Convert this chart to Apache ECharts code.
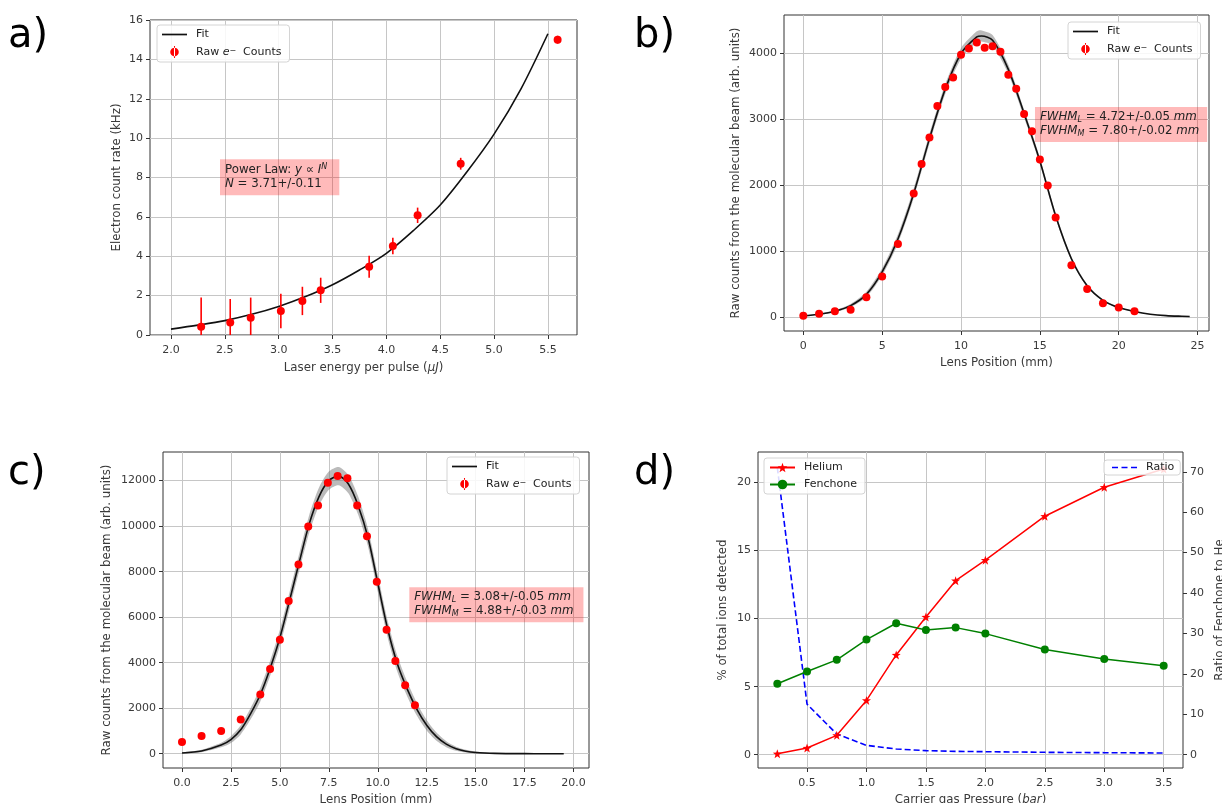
<!DOCTYPE html>
<html><head><meta charset="utf-8">
<script src="https://cdn.jsdelivr.net/npm/echarts@6/dist/echarts.min.js"></script>
<style>html,body{margin:0;padding:0;background:#fff}#c{width:1222px;height:803px}</style>
</head><body><div id="c"></div>
<script>
// ---------- Panel a ----------
const aEnergy = [2.28, 2.55, 2.74, 3.02, 3.22, 3.39, 3.84, 4.06, 4.29, 4.69, 5.59];
const aRate   = [0.42, 0.64, 0.88, 1.22, 1.73, 2.27, 3.47, 4.52, 6.08, 8.70, 15.0];
const aErr    = [1.48, 1.19, 1.02, 0.88, 0.72, 0.64, 0.56, 0.42, 0.39, 0.30, 0.20];
const aFitX   = [2.0, 2.25, 2.5, 2.75, 3.0, 3.25, 3.5, 3.75, 4.0, 4.25, 4.5, 4.75, 5.0, 5.25, 5.5];
const aFitY   = [0.30, 0.50, 0.73, 1.05, 1.45, 1.95, 2.55, 3.30, 4.15, 5.30, 6.60, 8.30, 10.2, 12.5, 15.3];
const aXTicks = [2.0, 2.5, 3.0, 3.5, 4.0, 4.5, 5.0, 5.5];
const aYTicks = [0, 2, 4, 6, 8, 10, 12, 14, 16];

// ---------- Panel b ----------
const bPos    = [0, 1, 2, 3, 4, 5, 6, 7, 7.5, 8, 8.5, 9, 9.5, 10, 10.5, 11, 11.5, 12, 12.5, 13, 13.5, 14, 14.5, 15, 15.5, 16, 17, 18, 19, 20, 21];
const bCounts = [15, 45, 86, 106, 297, 610, 1103, 1869, 2317, 2715, 3194, 3481, 3627, 3970, 4066, 4156, 4076, 4101, 4015, 3668, 3456, 3073, 2811, 2383, 1990, 1506, 781, 423, 207, 141, 86];
const bFitX   = [0, 1, 2, 3, 4, 5, 6, 7, 8, 9, 10, 11, 11.3, 12, 13, 14, 15, 16, 17, 18, 19, 20, 21, 22, 23, 24, 24.5];
const bFitY   = [15, 40, 85, 170, 340, 680, 1180, 1870, 2700, 3450, 3990, 4240, 4255, 4190, 3750, 3080, 2360, 1530, 880, 470, 250, 140, 80, 40, 18, 8, 5];
const bBand   = [5, 10, 15, 25, 40, 55, 70, 75, 75, 75, 80, 85, 85, 80, 70, 60, 50, 40, 30, 20, 15, 10, 6, 4, 3, 2, 2];
const bXTicks = [0, 5, 10, 15, 20, 25];
const bYTicks = [0, 1000, 2000, 3000, 4000];

// ---------- Panel c ----------
const cPos    = [0, 1, 2, 3, 4, 4.5, 5, 5.45, 5.95, 6.45, 6.95, 7.45, 7.95, 8.45, 8.95, 9.45, 9.95, 10.45, 10.9, 11.4, 11.9];
const cCounts = [512, 775, 994, 1505, 2602, 3727, 5013, 6709, 8316, 9983, 10904, 11912, 12204, 12102, 10904, 9559, 7556, 5452, 4078, 3011, 2134];
const cFitX   = [0, 1, 2, 2.5, 3, 3.5, 4, 4.5, 5, 5.5, 6, 6.5, 7, 7.5, 8, 8.5, 9, 9.5, 10, 10.5, 11, 11.5, 12, 12.5, 13, 13.5, 14, 14.5, 15, 16, 17, 18, 19.5];
const cFitY   = [30, 120, 380, 620, 1050, 1750, 2600, 3750, 5100, 6750, 8450, 10100, 11300, 12000, 12200, 11850, 10900, 9500, 7500, 5500, 3950, 2850, 1950, 1250, 750, 420, 220, 110, 55, 15, 5, 2, 0];
const cBand   = [20, 50, 100, 150, 200, 250, 300, 330, 350, 370, 380, 390, 400, 400, 400, 400, 400, 390, 380, 370, 350, 320, 280, 230, 180, 130, 90, 60, 40, 15, 5, 2, 0];
const cXTicks = [0, 2.5, 5, 7.5, 10, 12.5, 15, 17.5, 20];
const cYTicks = [0, 2000, 4000, 6000, 8000, 10000, 12000];

// ---------- Panel d ----------
const dPressure = [0.25, 0.5, 0.75, 1.0, 1.25, 1.5, 1.75, 2.0, 2.5, 3.0, 3.5];
const dHelium   = [0.07, 0.49, 1.42, 3.99, 7.33, 10.12, 12.79, 14.3, 17.53, 19.66, 21.0];
const dFenchone = [5.21, 6.11, 6.97, 8.46, 9.66, 9.17, 9.34, 8.90, 7.73, 7.04, 6.53];
const dRatio    = [71.1, 12.5, 5.1, 2.3, 1.4, 1.0, 0.82, 0.74, 0.58, 0.49, 0.41];
const dXTicks   = [0.5, 1.0, 1.5, 2.0, 2.5, 3.0, 3.5];
const dYTicks   = [0, 5, 10, 15, 20];
const dY2Ticks  = [0, 10, 20, 30, 40, 50, 60, 70];

// ---------- helpers ----------
const FONT = 'DejaVu Sans';
const TXT = '#3a3a3a';
const RED = '#ff0000';
const zip = (xs, ys) => xs.map((x, i) => [x, ys[i]]);
function richSet(fs, col) {
  return {
    n: {fontFamily: FONT, fontSize: fs, color: col},
    i: {fontFamily: FONT, fontSize: fs, fontStyle: 'italic', color: col},
    s: {fontFamily: FONT, fontSize: Math.round(fs * 0.72), fontStyle: 'italic', verticalAlign: 'top', color: col},
    sb: {fontFamily: FONT, fontSize: Math.round(fs * 0.72), fontStyle: 'italic', verticalAlign: 'bottom', color: col}
  };
}
const rich11 = richSet(11, '#222');
const richName = richSet(11.8, TXT);
const rich12 = richSet(11.8, '#222');

function axis(gridIndex, min, max, ticks, name, nameGap, margin, fmt, extra) {
  const o = {
    type: 'value', gridIndex, min, max, name, nameLocation: 'middle', nameGap,
    nameTextStyle: {fontFamily: FONT, fontSize: 11.8, color: TXT, rich: richName},
    axisLine: {show: false, onZero: false},
    axisTick: {show: true, customValues: ticks, length: 4, lineStyle: {color: '#333', width: 1}},
    axisLabel: {customValues: ticks, margin, fontFamily: FONT, fontSize: 11, color: TXT, formatter: fmt || (v => String(v))},
    splitLine: {show: true, lineStyle: {color: '#c6c6c6', width: 1}}
  };
  return Object.assign(o, extra || {});
}
const f1 = v => v.toFixed(1);

const ERR_ICON = 'path://M4.4,0 H5.6 V14 H4.4 Z M0,7 A5,5 0 1,0 10,7 A5,5 0 1,0 0,7 Z';
const LINE_ICON = 'path://M0,0 H25 V1.7 H0 Z';
const DASH_ICON = 'path://M0,0 H6 V1.7 H0 Z M9.5,0 H15.5 V1.7 H9.5 Z M19,0 H25 V1.7 H19 Z';
const legendFmt = name => name === 'Raw e- Counts' ? '{n|Raw }{i|e}{s|−}{n|  Counts}' : '{n|' + name + '}';
function legendBox(left, top, data) {
  return {
    left, top, orient: 'vertical', data, selectedMode: false,
    itemWidth: 25, itemHeight: 12, itemGap: 6, padding: [4, 8, 4, 5],
    backgroundColor: 'rgba(255,255,255,0.85)', borderColor: '#d4d4d4', borderWidth: 1, borderRadius: 3,
    textStyle: {fontFamily: FONT, fontSize: 11, color: '#222', padding: [0, 0, 0, 4], rich: rich11},
    formatter: legendFmt
  };
}
const rawItem = {name: 'Raw e- Counts', icon: ERR_ICON, itemStyle: {color: RED}};
const fitItem = {name: 'Fit', icon: LINE_ICON, itemStyle: {color: '#111'}};

const grids = [
  {left: 150, top: 20, width: 427, height: 315},
  {left: 784, top: 15, width: 425, height: 316},
  {left: 163, top: 452, width: 426, height: 316},
  {left: 758, top: 452, width: 425, height: 316}
].map(g => Object.assign(g, {show: true, borderColor: '#333', borderWidth: 1, backgroundColor: 'transparent', outerBoundsMode: 'none', containLabel: false}));

function errBars(xs, ys, es, xi, yi) {
  return {
    type: 'custom', name: 'errbars', xAxisIndex: xi, yAxisIndex: yi, clip: true, z: 3, silent: true,
    data: xs.map((x, i) => [x, ys[i], es[i]]),
    renderItem(params, api) {
      const x = api.value(0), y = api.value(1), e = api.value(2);
      const p1 = api.coord([x, y + e]), p2 = api.coord([x, y - e]);
      return {type: 'line', shape: {x1: p1[0], y1: p1[1], x2: p2[0], y2: p2[1]}, style: {stroke: RED, lineWidth: 1.6}};
    }
  };
}
function band(xs, ys, hw, xi, yi) {
  return {
    type: 'custom', name: 'band', xAxisIndex: xi, yAxisIndex: yi, clip: true, z: 1, silent: true,
    data: [[xs[0], ys[0]]],
    renderItem(params, api) {
      const up = xs.map((x, i) => api.coord([x, ys[i] + hw[i]]));
      const lo = xs.map((x, i) => api.coord([x, ys[i] - hw[i]])).reverse();
      return {type: 'polygon', shape: {points: up.concat(lo), smooth: 0.25}, style: {fill: 'rgba(120,120,120,0.5)'}};
    }
  };
}
function fitLine(xs, ys, xi, yi) {
  return {type: 'line', name: 'Fit', xAxisIndex: xi, yAxisIndex: yi, smooth: 0.3, symbol: 'none', z: 2,
    lineStyle: {color: '#111', width: 1.6}, itemStyle: {color: '#111'}, data: zip(xs, ys)};
}
function rawPts(xs, ys, xi, yi) {
  return {type: 'scatter', name: 'Raw e- Counts', xAxisIndex: xi, yAxisIndex: yi, symbol: 'circle', symbolSize: 8, z: 4,
    itemStyle: {color: RED, opacity: 1}, data: zip(xs, ys)};
}

const option = {
  animation: false,
  backgroundColor: '#fff',
  textStyle: {fontFamily: FONT},
  grid: grids,
  xAxis: [
    axis(0, 1.805, 5.77, aXTicks, 'Laser energy per pulse ({i|μJ})', 27, 10, f1),
    axis(1, -1.225, 25.725, bXTicks, 'Lens Position (mm)', 26, 10),
    axis(2, -0.97, 20.79, cXTicks, 'Lens Position (mm)', 26, 10, f1),
    axis(3, 0.0875, 3.6625, dXTicks, 'Carrier gas Pressure ({i|bar})', 26, 10, f1)
  ],
  yAxis: [
    axis(0, 0, 16, aYTicks, 'Electron count rate (kHz)', 27, 7),
    axis(1, -215, 4573, bYTicks, 'Raw counts from the molecular beam (arb. units)', 42, 7),
    axis(2, -627, 13258, cYTicks, 'Raw counts from the molecular beam (arb. units)', 50, 7),
    axis(3, -0.98, 22.25, dYTicks, '% of total ions detected', 29, 7),
    axis(3, -3.3, 74.9, dY2Ticks, 'Ratio of Fenchone to He', 31, 7, null, {position: 'right', splitLine: {show: false}})
  ],
  legend: [
    legendBox(157, 25, [fitItem, rawItem]),
    legendBox(1068, 22, [fitItem, rawItem]),
    legendBox(447, 457, [fitItem, rawItem]),
    legendBox(764, 458, ['Helium', 'Fenchone']),
    Object.assign(legendBox(1104, 460, [{name: 'Ratio', icon: DASH_ICON, itemStyle: {color: '#0000ff'}}]), {padding: [2, 6, 2, 8]})
  ],
  series: [
    // a
    errBars(aEnergy, aRate, aErr, 0, 0),
    fitLine(aFitX, aFitY, 0, 0),
    rawPts(aEnergy, aRate, 0, 0),
    // b
    band(bFitX, bFitY, bBand, 1, 1),
    fitLine(bFitX, bFitY, 1, 1),
    rawPts(bPos, bCounts, 1, 1),
    // c
    band(cFitX, cFitY, cBand, 2, 2),
    fitLine(cFitX, cFitY, 2, 2),
    rawPts(cPos, cCounts, 2, 2),
    // d
    {type: 'line', name: 'Ratio', xAxisIndex: 3, yAxisIndex: 4, symbol: 'none', z: 2,
      lineStyle: {color: '#0000ff', width: 1.6, type: [6, 3]}, itemStyle: {color: '#0000ff'}, data: zip(dPressure, dRatio)},
    {type: 'line', name: 'Helium', xAxisIndex: 3, yAxisIndex: 3, z: 3,
      symbol: 'path://M0,-10 L2.35,-3.24 L9.51,-3.09 L3.8,1.24 L5.88,8.09 L0,4 L-5.88,8.09 L-3.8,1.24 L-9.51,-3.09 L-2.35,-3.24 Z',
      symbolSize: 9, showAllSymbol: true,
      lineStyle: {color: RED, width: 1.5}, itemStyle: {color: RED}, data: zip(dPressure, dHelium)},
    {type: 'line', name: 'Fenchone', xAxisIndex: 3, yAxisIndex: 3, z: 3, symbol: 'circle', symbolSize: 8, showAllSymbol: true,
      lineStyle: {color: '#008000', width: 1.5}, itemStyle: {color: '#008000'}, data: zip(dPressure, dFenchone)}
  ]
};

const chart = echarts.init(document.getElementById('c'), null, {renderer: 'canvas'});
chart.setOption(option);

function annot(gridIndex, x, y, text, pad) {
  const p = chart.convertToPixel({gridIndex}, [x, y]);
  return {type: 'text', x: p[0], y: p[1], z: 10,
    style: {text, rich: rich12, fontFamily: FONT, fontSize: 11.8, fill: '#222',
      backgroundColor: 'rgba(255,0,0,0.27)', padding: pad || [3, 4, 3, 5], lineHeight: 14}};
}
function letter(x, y, t) {
  return {type: 'text', x, y, z: 10, style: {text: t, fontFamily: FONT, fontSize: 40, fill: '#000', textVerticalAlign: 'top'}};
}
chart.setOption({graphic: [
  letter(8, 17, 'a)'), letter(634, 17, 'b)'), letter(8, 454, 'c)'), letter(634, 454, 'd)'),
  annot(0, 2.455, 8.93, '{n|Power Law: }{i|y}{n| ∝ }{i|I}{s|N}\n{i|N}{n| = 3.71+/-0.11}', [4, 12, 4, 5]),
  annot(1, 14.69, 3178, '{i|FWHM}{sb|L}{n| = 4.72+/-0.05 }{i|mm}\n{i|FWHM}{sb|M}{n| = 7.80+/-0.02 }{i|mm}', [3, 8, 4, 5]),
  annot(2, 11.61, 7311, '{i|FWHM}{sb|L}{n| = 3.08+/-0.05 }{i|mm}\n{i|FWHM}{sb|M}{n| = 4.88+/-0.03 }{i|mm}', [3, 10, 4, 5])
]});
</script>
</body></html>
